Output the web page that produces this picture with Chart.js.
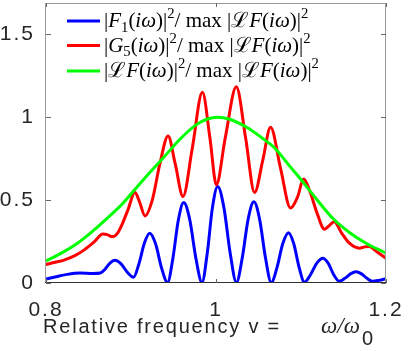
<!DOCTYPE html>
<html>
<head>
<meta charset="utf-8">
<script src="https://cdn.jsdelivr.net/npm/chart.js@4"></script>
<style>
html,body{margin:0;padding:0;background:#fff;}
#wrap{width:411px;height:351px;}
</style>
</head>
<body>
<div id="wrap"><canvas id="chart" width="411" height="351"></canvas></div>
<script>
// |F_1(iw)|^2 / max|LF|^2  (blue)
const blueX = [0.800,0.812,0.825,0.840,0.855,0.864,0.8697,0.8753,0.881,0.8883,0.8957,0.903,
    0.9093,0.9157,0.922,0.929,0.936,0.943,
    0.9493,0.9557,0.962,0.9692,0.9763,0.9835,
    0.9897,0.9958,1.002,1.0093,1.0167,1.024,
    1.0309,1.0377,1.0446,1.0514,1.0582,1.065,
    1.0718,1.0785,1.0853,1.0915,1.0978,1.104,
    1.1112,1.1184,1.1256,1.1321,1.1385,1.145,
    1.1516,1.1582,1.1648,1.1712,1.1776,1.184,1.192,1.200];
const blueY = [0.024,0.038,0.052,0.060,0.057,0.060,0.085,0.120,0.137,0.115,0.065,0.035,
    0.115,0.240,0.300,0.235,0.090,0.003,
    0.150,0.380,0.486,0.380,0.150,0.003,
    0.180,0.455,0.583,0.455,0.180,0.003,
    0.152,0.382,0.490,0.382,0.152,0.003,
    0.094,0.237,0.304,0.237,0.094,0.005,
    0.050,0.118,0.149,0.118,0.050,0.010,
    0.028,0.055,0.068,0.055,0.028,0.010,0.016,0.026];

// |G_5(iw)|^2 / max|LF|^2  (red)
const redX = [0.800,0.811,0.822,0.834,0.845,0.856,0.867,0.872,0.878,0.884,0.890,0.897,0.9045,0.910,0.9165,0.925,0.934,0.9436,0.952,0.9612,0.972,0.984,0.993,1.0004,1.011,1.0239,1.035,1.0454,1.055,1.0642,1.076,1.0877,1.096,1.103,1.110,1.119,1.1276,1.133,1.139,1.148,1.157,1.1687,1.175,1.180,1.190,1.200];
const redY = [0.112,0.125,0.140,0.165,0.200,0.245,0.295,0.292,0.280,0.300,0.360,0.450,0.548,0.490,0.405,0.500,0.720,0.888,0.720,0.522,0.810,1.151,0.870,0.593,0.880,1.184,0.870,0.546,0.740,0.940,0.690,0.452,0.520,0.627,0.560,0.420,0.325,0.345,0.370,0.300,0.240,0.210,0.218,0.220,0.185,0.150];

// |LF(iw)|^2 / max|LF|^2  (green)
const greenX = [0.800,0.818,0.837,0.856,0.876,0.890,0.9025,0.920,0.9378,0.957,0.977,0.990,1.002,1.015,1.0375,1.053,1.069,1.086,1.1033,1.120,1.1373,1.157,1.1765,1.200];
const greenY = [0.133,0.180,0.240,0.318,0.410,0.478,0.552,0.655,0.754,0.865,0.956,0.990,1.000,0.990,0.936,0.880,0.815,0.710,0.603,0.495,0.391,0.305,0.240,0.180];

const xTicks = [0.8, 1, 1.2];
const xTickLabels = ["0.8", "1", "1.2"];
const yTicks = [0, 0.5, 1, 1.5];
const yTickLabels = ["0", "0.5", "1", "1.5"];

const denom = [["/","r"],[" max ","r"],["|","r"],["\u2112","r"],["F","i"],["(","r"],["i\u03c9","i"],[")|","r"],["2","sup"]];
const legendLabels = [
    [["|","r"],["F","i"],["1","sub"],["(","r"],["i\u03c9","i"],[")|","r"],["2","sup"]].concat(denom),
    [["|","r"],["G","i"],["5","sub"],["(","r"],["i\u03c9","i"],[")|","r"],["2","sup"]].concat(denom),
    [["|","r"],["\u2112","r"],["F","i"],["(","r"],["i\u03c9","i"],[")|","r"],["2","sup"]].concat(denom)
];
const xTitle = "Relative frequency v =";

function pts(xs, ys){ return xs.map((x,i)=>({x:x, y:ys[i]})); }

function drawMath(ctx, segs, x, y, size){
    segs.forEach(([t,s])=>{
        let f=size, dy=0, st='';
        if(s==='i') st='italic ';
        if(s==='sub'){ f=size*0.7; dy=size*0.22; }
        if(s==='sup'){ f=size*0.7; dy=-size*0.42; }
        ctx.font = st + f + 'px "Liberation Serif","DejaVu Serif",serif';
        ctx.fillText(t, x, y+dy);
        x += ctx.measureText(t).width;
    });
}

const framePlugin = {
    id:'frame',
    beforeDraw(chart){ chart.ctx.letterSpacing = '2px'; },
    afterDatasetsDraw(chart){
        const ctx = chart.ctx, a = chart.chartArea, x = chart.scales.x, y = chart.scales.y;
        ctx.save();
        ctx.letterSpacing = '0px';
        // box
        ctx.lineWidth = 1;
        ctx.strokeStyle = '#9a9a9a';
        ctx.beginPath();
        ctx.moveTo(a.left-0.5, a.bottom); ctx.lineTo(a.left-0.5, a.top+0.5);
        ctx.lineTo(a.right-0.5, a.top+0.5); ctx.lineTo(a.right-0.5, a.bottom);
        ctx.stroke();
        ctx.strokeStyle = '#333';
        ctx.beginPath(); ctx.moveTo(a.left-1, a.bottom-0.5); ctx.lineTo(a.right, a.bottom-0.5); ctx.stroke();
        // inward ticks
        ctx.strokeStyle = '#666';
        ctx.beginPath();
        xTicks.forEach(v=>{
            const px = Math.round(x.getPixelForValue(v))+0.5;
            ctx.moveTo(px, a.bottom); ctx.lineTo(px, a.bottom-4);
            ctx.moveTo(px, a.top); ctx.lineTo(px, a.top+4);
        });
        yTicks.forEach(v=>{
            const py = Math.round(y.getPixelForValue(v))+0.5;
            ctx.moveTo(a.left, py); ctx.lineTo(a.left+5, py);
            ctx.moveTo(a.right, py); ctx.lineTo(a.right-5, py);
        });
        ctx.stroke();

        // legend
        const rows = [21, 45.5, 71];
        chart.data.datasets.forEach((ds,i)=>{
            ctx.strokeStyle = ds.borderColor;
            ctx.lineWidth = 3;
            ctx.beginPath(); ctx.moveTo(67, rows[i]); ctx.lineTo(100, rows[i]); ctx.stroke();
            ctx.fillStyle = '#000';
            drawMath(ctx, legendLabels[i], 104, rows[i]+6, 21);
        });

        // x axis title
        ctx.fillStyle = '#262626';
        ctx.letterSpacing = '1.8px';
        ctx.font = '20px "Liberation Sans", Arial, sans-serif';
        ctx.fillText(xTitle, 43, 333);
        ctx.letterSpacing = '0px';
        ctx.font = 'italic 23px "Liberation Serif","DejaVu Serif",serif';
        ctx.fillText('\u03c9/\u03c9', 321, 333);
        ctx.font = '20px "Liberation Sans", Arial, sans-serif';
        ctx.fillText('0', 362, 345);
        ctx.restore();
    }
};

const tickFont = { family:'"Liberation Sans", Arial, sans-serif', size:21 };

new Chart(document.getElementById('chart').getContext('2d'), {
    type:'line',
    data:{
        datasets:[
            { label:'F1', data:pts(blueX, blueY), borderColor:'#0000ff', order:2 },
            { label:'G5', data:pts(redX, redY), borderColor:'#ff0000', order:1 },
            { label:'LF', data:pts(greenX, greenY), borderColor:'#00ff00', order:0 }
        ]
    },
    options:{
        responsive:false,
        animation:false,
        events:[],
        layout:{ padding:{ left:0, top:3, right:25, bottom:0 } },
        elements:{
            line:{ borderWidth:3, cubicInterpolationMode:'monotone', fill:false },
            point:{ radius:0 }
        },
        plugins:{ legend:{ display:false }, tooltip:{ enabled:false } },
        scales:{
            x:{
                type:'linear', min:0.8, max:1.2,
                grid:{ display:false, drawTicks:false },
                border:{ display:false },
                afterBuildTicks:(s)=>{ s.ticks = xTicks.map(v=>({value:v})); },
                afterFit:(s)=>{ s.height = 68; s.paddingLeft = 0; s.paddingRight = 0; },
                ticks:{ font:tickFont, color:'#262626', padding:15, maxRotation:0, autoSkip:false,
                        callback:(v)=>xTickLabels[xTicks.indexOf(v)] }
            },
            y:{
                type:'linear', min:0, max:1.69,
                grid:{ display:false, drawTicks:false },
                border:{ display:false },
                afterBuildTicks:(s)=>{ s.ticks = yTicks.map(v=>({value:v})); },
                afterFit:(s)=>{ s.width = 46; s.paddingTop = 0; s.paddingBottom = 0; },
                ticks:{ font:tickFont, color:'#262626', padding:11, autoSkip:false,
                        callback:(v)=>yTickLabels[yTicks.indexOf(v)] }
            }
        }
    },
    plugins:[framePlugin]
});
</script>
</body>
</html>
